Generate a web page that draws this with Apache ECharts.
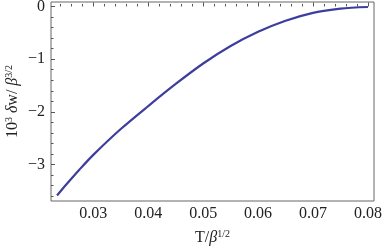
<!DOCTYPE html>
<html>
<head>
<meta charset="utf-8">
<script src="https://cdn.jsdelivr.net/npm/echarts@6/dist/echarts.min.js"></script>
<style>html,body{margin:0;padding:0;background:#fff}#c{width:382px;height:249px}</style>
</head>
<body>
<div id="c"></div>
<script>
// Data
const tValues = [0.0234, 0.025, 0.0275, 0.03, 0.035, 0.04, 0.045, 0.05, 0.055, 0.06, 0.065, 0.07, 0.075, 0.08];
const dwValues = [-3.585, -3.387, -3.092, -2.815, -2.325, -1.889, -1.47, -1.082, -0.75, -0.48, -0.27, -0.12, -0.04, -0.01];
const xMajorTicks = [0.03, 0.04, 0.05, 0.06, 0.07, 0.08];
const xMinorTicks = [0.024, 0.026, 0.028, 0.032, 0.034, 0.036, 0.038, 0.042, 0.044, 0.046, 0.048, 0.052, 0.054, 0.056, 0.058, 0.062, 0.064, 0.066, 0.068, 0.072, 0.074, 0.076, 0.078];
const yMajorTicks = [-3, -2, -1, 0];
const yMinorTicks = [-3.6, -3.4, -3.2, -2.8, -2.6, -2.4, -2.2, -1.8, -1.6, -1.4, -1.2, -0.8, -0.6, -0.4, -0.2];
const xRange = [0.0223, 0.0811];
const yRange = [-3.69, 0.085];

const font = 'Liberation Serif';
const axisColor = '#555';
const chart = echarts.init(document.getElementById('c'), null, {renderer: 'canvas'});
const gridBox = {left: 51, right: 8, top: 2, bottom: 48, containLabel: false, outerBoundsMode: 'none'};
const baseX = {
  type: 'value', min: xRange[0], max: xRange[1],
  splitLine: {show: false}, axisLine: {show: false}
};
const baseY = {
  type: 'value', min: yRange[0], max: yRange[1],
  splitLine: {show: false}, axisLine: {show: false}
};
const nameRich = {
  i: {fontFamily: font, fontStyle: 'italic', fontSize: 16, color: '#222'},
  sup: {fontFamily: font, fontSize: 10, color: '#222', verticalAlign: 'bottom', padding: [0, 0, 8, 0]}
};
chart.setOption({
  animation: false,
  grid: [
    Object.assign({show: true, borderColor: '#666', borderWidth: 1, backgroundColor: 'transparent'}, gridBox),
    Object.assign({show: false}, gridBox)
  ],
  xAxis: [
    Object.assign({}, baseX, {
      gridIndex: 0, position: 'bottom',
      name: 'T/{i|β}{sup|1/2}', nameLocation: 'middle', nameGap: 28, nameMoveOverlap: false,
      nameTextStyle: {fontFamily: font, fontSize: 16, color: '#222', rich: nameRich},
      axisTick: {show: true, inside: true, length: 4, lineStyle: {color: axisColor}, customValues: xMajorTicks},
      axisLabel: {show: true, customValues: xMajorTicks, margin: 5, fontFamily: font, fontSize: 16, color: '#222',
        formatter: v => v.toFixed(2)}
    }),
    Object.assign({}, baseX, {
      gridIndex: 1, position: 'bottom',
      axisTick: {show: true, inside: true, length: 2.5, lineStyle: {color: axisColor}, customValues: xMinorTicks},
      axisLabel: {show: false}
    })
  ],
  yAxis: [
    Object.assign({}, baseY, {
      gridIndex: 0, position: 'left',
      name: '10{sup|3} {i|δ}w/ {i|β}{sup|3/2}', nameLocation: 'middle', nameGap: 29, nameRotate: 90, nameMoveOverlap: false,
      nameTextStyle: {fontFamily: font, fontSize: 16, color: '#222', rich: nameRich},
      axisTick: {show: true, inside: true, length: 4, lineStyle: {color: axisColor}, customValues: yMajorTicks},
      axisLabel: {show: true, customValues: yMajorTicks, margin: 6, fontFamily: font, fontSize: 16, color: '#222',
        formatter: v => (v < 0 ? '\u2212' + Math.abs(v) : String(v))}
    }),
    Object.assign({}, baseY, {
      gridIndex: 1, position: 'left',
      axisTick: {show: true, inside: true, length: 2.5, lineStyle: {color: axisColor}, customValues: yMinorTicks},
      axisLabel: {show: false}
    })
  ],
  series: [{
    type: 'line', xAxisIndex: 0, yAxisIndex: 0,
    data: tValues.map((t, i) => [t, dwValues[i]]),
    smooth: 0.3, showSymbol: false, symbol: 'none',
    lineStyle: {color: '#3d3d9e', width: 2.2}
  }]
});
</script>
</body>
</html>
